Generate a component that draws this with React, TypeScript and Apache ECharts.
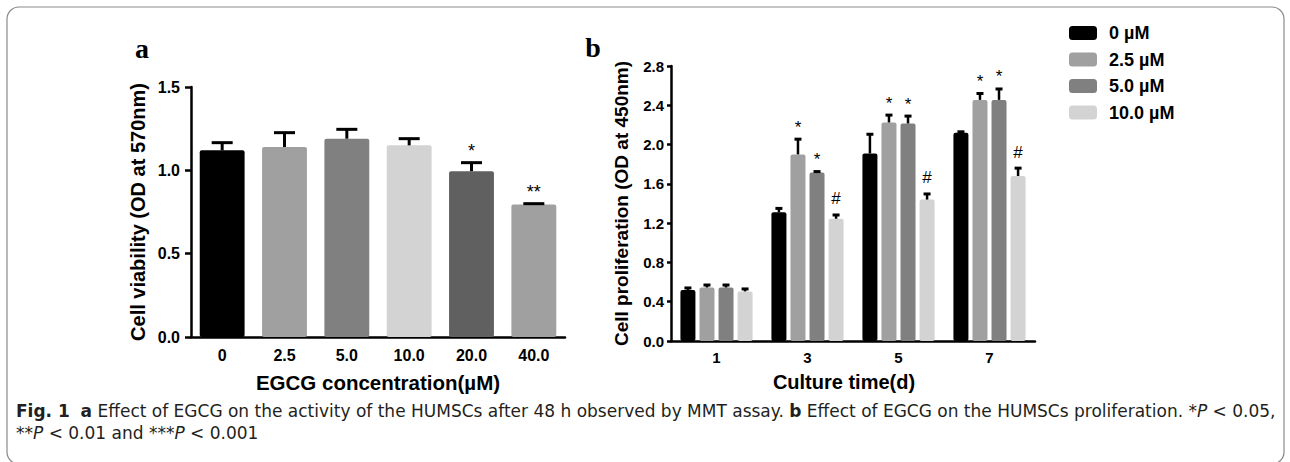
import React, { useEffect, useRef } from 'react';
import * as echarts from 'echarts';

const FONT = '"Liberation Sans", Arial, Helvetica, sans-serif';
const CAPTION_FONT = '"DejaVu Sans", "Open Sans", sans-serif';
const CAP_SIZE = 17;
const CAP_LH = 22;

// Panel a
const catsA = ['0', '2.5', '5.0', '10.0', '20.0', '40.0'];
const meansA = [1.12, 1.14, 1.19, 1.15, 0.995, 0.795];
const upperA = [1.166, 1.226, 1.246, 1.19, 1.046, 0.8];
const colorsA = ['#000000', '#a0a0a0', '#808080', '#d3d3d3', '#606060', '#a0a0a0'];
const sigA = ['', '', '', '', '*', '**'];

// Panel b
const catsB = ['1', '3', '5', '7'];
const namesB = ['0 µM', '2.5 µM', '5.0 µM', '10.0 µM'];
const colorsB = ['#000000', '#a0a0a0', '#808080', '#d3d3d3'];
const mean0 = [0.52, 1.31, 1.91, 2.12];
const mean25 = [0.545, 1.9, 2.225, 2.455];
const mean50 = [0.545, 1.715, 2.215, 2.455];
const mean100 = [0.505, 1.245, 1.44, 1.68];
const up0 = [0.54, 1.35, 2.105, 2.13];
const up25 = [0.57, 2.055, 2.3, 2.52];
const up50 = [0.57, 1.725, 2.29, 2.566];
const up100 = [0.53, 1.283, 1.497, 1.76];
const sig0 = ['', '', '', ''];
const sig25 = ['', '*', '*', '*'];
const sig50 = ['', '*', '*', '*'];
const sig100 = ['', '#', '#', '#'];
const meansB = [mean0, mean25, mean50, mean100];
const upsB = [up0, up25, up50, up100];
const sigsB = [sig0, sig25, sig50, sig100];

const captionLine1 =
  '{b|Fig. 1}  {b|a} Effect of EGCG on the activity of the HUMSCs after 48 h observed by MMT assay. {b|b} Effect of EGCG on the HUMSCs proliferation. *{i|P} < 0.05,';
const captionLine2 = '**{i|P} < 0.01 and ***{i|P} < 0.001';

function errRender(offset: number, capW: number, stemW: number, sig: string[], fontSize: number) {
  return (params: any, api: any) => {
    const i = api.value(0);
    const pm = api.coord([i, api.value(1)]);
    const pu = api.coord([i, api.value(2)]);
    const x = pm[0] + offset;
    const children: any[] = [
      { type: 'line', shape: { x1: x, y1: pm[1], x2: x, y2: pu[1] }, style: { stroke: '#000', lineWidth: stemW } },
      { type: 'line', shape: { x1: x - capW / 2, y1: pu[1], x2: x + capW / 2, y2: pu[1] }, style: { stroke: '#000', lineWidth: 3 } },
    ];
    const mark = sig[params.dataIndex];
    if (mark) {
      children.push({
        type: 'text',
        style: {
          text: mark,
          x,
          y: pu[1] - (mark[0] === '#' ? 16 : 12),
          align: 'center',
          verticalAlign: 'middle',
          fontSize,
          fontFamily: FONT,
          fill: '#000',
        },
      });
    }
    return { type: 'group', children };
  };
}

const axisLineStyle = { color: '#000', width: 2.5 };

export default function App() {
  const ref = useRef<HTMLDivElement>(null);
  useEffect(() => {
    document.body.style.margin = '0';
    const chart = echarts.init(ref.current!, null, { renderer: 'svg' });
    const barStep = 15 * 1.27;
    const capStyle = { fontFamily: CAPTION_FONT, fontSize: CAP_SIZE, lineHeight: CAP_LH, fill: '#231f20' };
    const option: any = {
      animation: false,
      backgroundColor: '#fff',
      textStyle: { fontFamily: FONT },
      legend: {
        data: namesB,
        orient: 'vertical',
        left: 1064,
        top: 19,
        itemWidth: 28,
        itemHeight: 14,
        itemGap: 8.5,
        icon: 'roundRect',
        textStyle: { fontSize: 18, fontWeight: 'bold', color: '#000', fontFamily: FONT, lineHeight: 18, padding: [0, 0, 0, 7] },
      },
      grid: [
        { left: 191, top: 87, width: 374, height: 250 },
        { left: 671, top: 66, width: 364, height: 275 },
      ],
      xAxis: [
        {
          type: 'category',
          gridIndex: 0,
          data: catsA,
          axisLine: { lineStyle: axisLineStyle },
          axisTick: { alignWithLabel: true, length: 6, lineStyle: { color: '#000', width: 2.5 } },
          axisLabel: { fontSize: 16, fontWeight: 'bold', color: '#000', fontFamily: FONT, margin: 10 },
          name: 'EGCG concentration(µM)',
          nameLocation: 'middle',
          nameGap: 35,
          nameTextStyle: { fontSize: 20.5, fontWeight: 'bold', color: '#000', fontFamily: FONT },
        },
        {
          type: 'category',
          gridIndex: 1,
          data: catsB,
          axisLine: { lineStyle: axisLineStyle },
          axisTick: { alignWithLabel: true, length: 5, lineStyle: { color: '#000', width: 2.5 } },
          axisLabel: { fontSize: 15, fontWeight: 'bold', color: '#000', fontFamily: FONT, margin: 9 },
          name: 'Culture time(d)',
          nameLocation: 'middle',
          nameGap: 31,
          nameTextStyle: { fontSize: 20, fontWeight: 'bold', color: '#000', fontFamily: FONT, padding: [0, 18, 0, 0] },
        },
      ],
      yAxis: [
        {
          type: 'value',
          gridIndex: 0,
          min: 0,
          max: 1.5,
          interval: 0.5,
          splitLine: { show: false },
          axisLine: { show: true, lineStyle: axisLineStyle },
          axisTick: { show: true, length: 6, lineStyle: { color: '#000', width: 2.5 } },
          axisLabel: { fontSize: 16, fontWeight: 'bold', color: '#000', fontFamily: FONT, margin: 11, formatter: (v: number) => v.toFixed(1) },
          name: 'Cell viability (OD at 570nm)',
          nameLocation: 'middle',
          nameGap: 43,
          nameTextStyle: { fontSize: 20, fontWeight: 'bold', color: '#000', fontFamily: FONT },
        },
        {
          type: 'value',
          gridIndex: 1,
          min: 0,
          max: 2.8,
          interval: 0.4,
          splitLine: { show: false },
          axisLine: { show: true, lineStyle: axisLineStyle },
          axisTick: { show: true, length: 4, lineStyle: { color: '#000', width: 2.5 } },
          axisLabel: { fontSize: 15, fontWeight: 'bold', color: '#000', fontFamily: FONT, margin: 7, formatter: (v: number) => v.toFixed(1) },
          name: 'Cell proliferation (OD at 450nm)',
          nameLocation: 'middle',
          nameGap: 40,
          nameTextStyle: { fontSize: 19, fontWeight: 'bold', color: '#000', fontFamily: FONT },
        },
      ],
      series: [
        {
          type: 'bar',
          xAxisIndex: 0,
          yAxisIndex: 0,
          barCategoryGap: '28%',
          data: meansA.map((v, i) => ({ value: v, itemStyle: { color: colorsA[i], borderRadius: 2 } })),
        },
        {
          type: 'custom',
          xAxisIndex: 0,
          yAxisIndex: 0,
          z: 10,
          renderItem: errRender(0, 21, 3, sigA, 18),
          data: meansA.map((v, i) => [i, v, upperA[i]]),
        },
        ...namesB.map((n, s) => ({
          type: 'bar',
          name: n,
          xAxisIndex: 1,
          yAxisIndex: 1,
          barWidth: 15,
          barGap: '27%',
          itemStyle: { color: colorsB[s], borderRadius: 2 },
          data: meansB[s],
        })),
        ...namesB.map((n, s) => ({
          type: 'custom',
          name: 'err' + s,
          xAxisIndex: 1,
          yAxisIndex: 1,
          z: 10,
          renderItem: errRender((s - 1.5) * barStep, 7, 2.5, sigsB[s], 17),
          data: meansB[s].map((v, i) => [i, v, upsB[s][i]]),
        })),
      ],
      graphic: [
        {
          type: 'rect',
          silent: true,
          shape: { x: 7, y: 7, width: 1277, height: 457, r: 12 },
          style: { fill: 'none', stroke: '#8a8a8a', lineWidth: 1.2 },
        },
        {
          type: 'text',
          x: 142,
          y: 48,
          style: { text: 'a', font: 'bold 28px "Liberation Serif", "Times New Roman", serif', fill: '#000', align: 'center', verticalAlign: 'middle' },
        },
        {
          type: 'text',
          x: 593,
          y: 47,
          style: { text: 'b', font: 'bold 28px "Liberation Serif", "Times New Roman", serif', fill: '#000', align: 'center', verticalAlign: 'middle' },
        },
        {
          type: 'text',
          x: 16,
          y: 411 - CAP_LH / 2,
          style: {
            text: captionLine1 + '\n' + captionLine2,
            ...capStyle,
            verticalAlign: 'top',
            rich: {
              b: { ...capStyle, fontWeight: 'bold' },
              i: { ...capStyle, fontStyle: 'italic' },
            },
          },
        },
      ],
    };
    chart.setOption(option);
    return () => chart.dispose();
  }, []);
  return <div ref={ref} style={{ width: 1290, height: 462, background: '#fff' }} />;
}
